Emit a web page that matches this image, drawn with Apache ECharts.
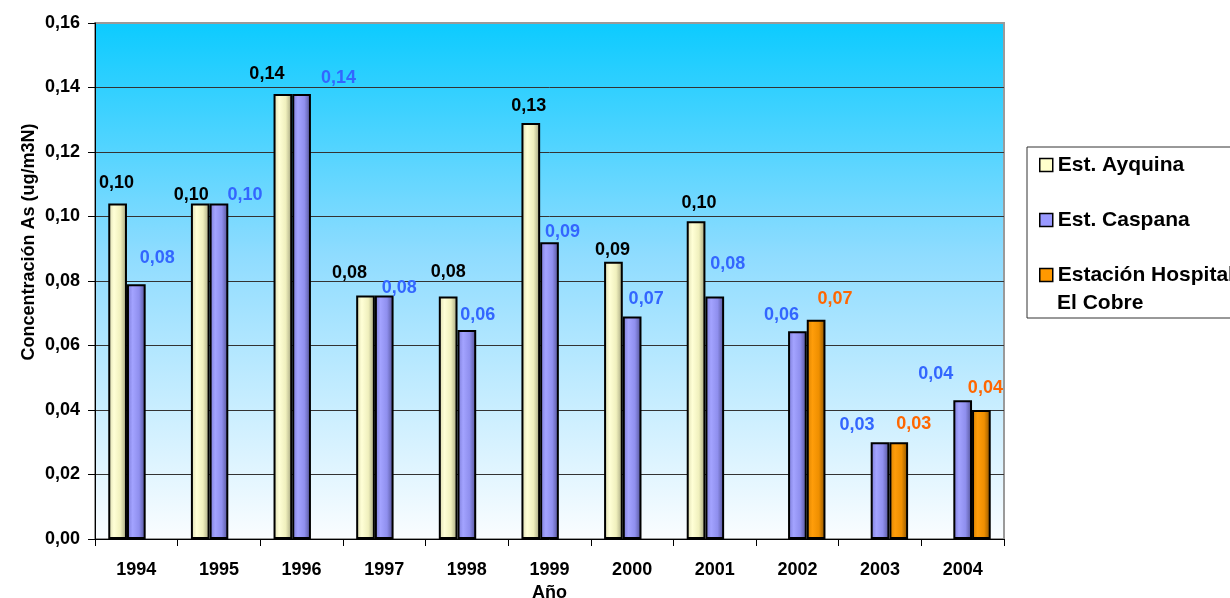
<!DOCTYPE html>
<html>
<head>
<meta charset="utf-8">
<script src="https://cdn.jsdelivr.net/npm/echarts@6/dist/echarts.min.js"></script>
<style>
  html, body { margin: 0; padding: 0; background: #ffffff; }
  #chart { width: 1230px; height: 598px; }
</style>
</head>
<body>
<div id="chart"></div>
<script>
// Annual arsenic concentration (ug/m3N) at three monitoring stations
const years = ['1994', '1995', '1996', '1997', '1998', '1999', '2000', '2001', '2002', '2003', '2004'];
const ayquina  = [0.104, 0.104, 0.138, 0.0755, 0.0752, 0.129, 0.086, 0.0985, null, null, null];
const caspana  = [0.079, 0.104, 0.138, 0.0755, 0.0648, 0.092, 0.069, 0.0752, 0.0644, 0.030, 0.043];
const hospital = [null, null, null, null, null, null, null, null, 0.068, 0.030, 0.040];
const seriesNames = ['Est. Ayquina', 'Est. Caspana', 'Estación Hospital El Cobre'];
const yTicks = [0, 0.02, 0.04, 0.06, 0.08, 0.10, 0.12, 0.14, 0.16];

// Hand placement of the value labels, [dx, dy] from the top centre of each bar
const ayquinaLabelShift  = [[-1, -12], [-9, 0], [-16, -11], [-16, -13], [0, -15], [-2, -8], [-1, -3], [3, -9], null, null, null];
const caspanaLabelShift  = [[21, -17], [26, 0], [37, -7], [15, 2], [11, -6], [13, -1], [14, -8], [13, -23], [-16, -7], [-23, -8], [-27, -17]];
const hospitalLabelShift = [null, null, null, null, null, null, null, null, [19, -12], [15, -9], [4, -13]];

const FONT = '"Liberation Sans", Arial, sans-serif';
const decimalComma = v => Number(v).toFixed(2).replace('.', ',');

function shade(c0, c1, c2, c3) {
  return new echarts.graphic.LinearGradient(0, 0, 1, 0, [
    { offset: 0, color: c0 },
    { offset: 0.3, color: c1 },
    { offset: 0.65, color: c2 },
    { offset: 1, color: c3 }
  ]);
}

function withLabels(values, shifts) {
  return values.map((v, i) => v == null ? null : { value: v, label: { offset: shifts[i] } });
}

function barSeries(name, values, shifts, fill, labelColor) {
  return {
    name: name,
    type: 'bar',
    barWidth: 18.7,
    barGap: '0%',
    data: withLabels(values, shifts),
    itemStyle: { color: fill, borderColor: '#000000', borderWidth: 2 },
    label: {
      show: true,
      position: 'top',
      distance: 0,
      formatter: p => decimalComma(p.value),
      color: labelColor,
      fontFamily: FONT,
      fontWeight: 'bold',
      fontSize: 18
    }
  };
}

const chart = echarts.init(document.getElementById('chart'), null, { renderer: 'canvas' });

chart.setOption({
  backgroundColor: '#ffffff',
  animation: false,
  grid: {
    left: 95, right: 226, top: 23, bottom: 59,
    outerBoundsMode: 'none',
    containLabel: false,
    show: true,
    borderColor: '#9a9a9a',
    borderWidth: 2,
    backgroundColor: new echarts.graphic.LinearGradient(0, 0, 0, 1, [
      { offset: 0, color: '#0ccbff' },
      { offset: 0.45, color: '#8fdcff' },
      { offset: 1, color: '#fbfdff' }
    ])
  },
  legend: {
    orient: 'vertical',
    left: 1027,
    top: 147,
    padding: [4, 40, 29, 12],
    itemGap: 27,
    itemWidth: 13,
    itemHeight: 13,
    backgroundColor: '#ffffff',
    borderColor: '#333333',
    borderWidth: 1,
    selectedMode: false,
    icon: 'rect',
    formatter: n => n === seriesNames[2] ? 'Estación Hospital' : n,
    textStyle: { fontFamily: FONT, fontWeight: 'bold', fontSize: 21, color: '#000', lineHeight: 28 },
    data: [
      { name: seriesNames[0], itemStyle: { color: '#ffffcc', borderColor: '#000', borderWidth: 1.5 } },
      { name: seriesNames[1], itemStyle: { color: '#9999ff', borderColor: '#000', borderWidth: 1.5 } },
      { name: seriesNames[2], itemStyle: { color: '#ff9900', borderColor: '#000', borderWidth: 1.5 } }
    ]
  },
  graphic: [
    {
      type: 'text',
      z: 100,
      x: 1057,
      y: 303,
      style: {
        text: 'El Cobre', fontFamily: FONT, fontWeight: 'bold', fontSize: 21, fill: '#000',
        align: 'left', verticalAlign: 'middle'
      }
    },
    {
      type: 'text',
      z: 100,
      x: 29,
      y: 242,
      rotation: Math.PI / 2,
      style: {
        text: 'Concentración As (ug/m3N)',
        fontFamily: FONT, fontWeight: 'bold', fontSize: 18, fill: '#000',
        align: 'center', verticalAlign: 'middle'
      }
    }
  ],
  xAxis: {
    type: 'category',
    data: years,
    name: 'Año',
    nameLocation: 'middle',
    nameGap: 44,
    nameTextStyle: { fontFamily: FONT, fontWeight: 'bold', fontSize: 18, color: '#000' },
    axisLine: { lineStyle: { color: '#000', width: 1 } },
    axisTick: { show: true, length: 7, lineStyle: { color: '#000' } },
    axisLabel: { margin: 22, fontFamily: FONT, fontWeight: 'bold', fontSize: 18, color: '#000' },
    splitLine: { show: false }
  },
  yAxis: {
    type: 'value',
    min: yTicks[0],
    max: yTicks[yTicks.length - 1],
    interval: 0.02,
    axisLine: { show: true, lineStyle: { color: '#000', width: 1 } },
    axisTick: { show: true, length: 7, lineStyle: { color: '#000' } },
    axisLabel: {
      margin: 15,
      formatter: v => decimalComma(v),
      fontFamily: FONT, fontWeight: 'bold', fontSize: 18, color: '#000'
    },
    splitLine: {
      show: true,
      lineStyle: {
        width: 1,
        color: yTicks.map((t, i) => i === yTicks.length - 1 ? '#9a9a9a' : '#333333')
      }
    }
  },
  series: [
    barSeries(seriesNames[0], ayquina, ayquinaLabelShift,
      shade('#d9d9ae', '#ffffd6', '#f0f0bd', '#9e9e7a'), '#000000'),
    barSeries(seriesNames[1], caspana, caspanaLabelShift,
      shade('#7a7ad6', '#a3a3ff', '#8f8fee', '#4f4f92'), '#3366ff'),
    barSeries(seriesNames[2], hospital, hospitalLabelShift,
      shade('#d98200', '#ff9d0a', '#ef8f00', '#875100'), '#ff6600')
  ]
});
</script>
</body>
</html>
